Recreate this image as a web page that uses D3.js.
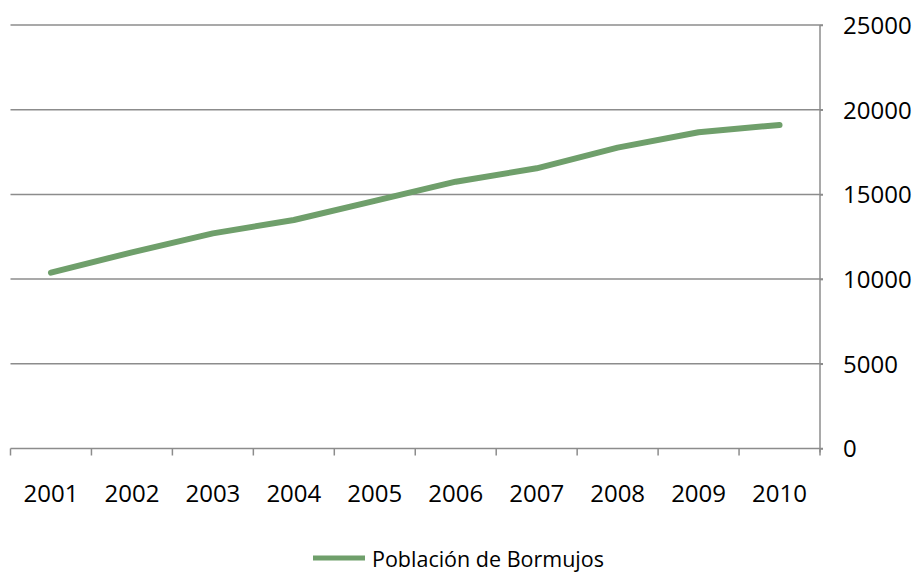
<!DOCTYPE html>
<html>
<head>
<meta charset="utf-8">
<script src="https://cdn.jsdelivr.net/npm/d3@7"></script>
<style>
  body { margin: 0; background: #fff; }
  svg text { font-family: "Open Sans", sans-serif; fill: #000; }
</style>
</head>
<body>
<svg></svg>
<script>
// Data
const years = ['2001', '2002', '2003', '2004', '2005', '2006', '2007', '2008', '2009', '2010'];
const population = [10380, 11580, 12700, 13490, 14620, 15750, 16540, 17760, 18670, 19100];
const yTicks = [0, 5000, 10000, 15000, 20000, 25000];
const seriesName = 'Población de Bormujos';

const width = 915;
const height = 572;
const margin = { top: 25, right: 95, bottom: 123.5, left: 10.5 };
const lineColor = '#6f9f6b';
const gridColor = '#8c8c8c';

const svg = d3.select('svg')
  .attr('width', width)
  .attr('height', height);

const x = d3.scaleBand()
  .domain(years)
  .range([margin.left, width - margin.right]);

const y = d3.scaleLinear()
  .domain([0, 25000])
  .range([height - margin.bottom, margin.top]);

// Horizontal gridlines
svg.append('g')
  .selectAll('line')
  .data(yTicks)
  .enter()
  .append('line')
  .attr('x1', margin.left)
  .attr('x2', width - margin.right + 3)
  .attr('y1', d => y(d))
  .attr('y2', d => y(d))
  .style('stroke', gridColor)
  .style('stroke-width', 1.5);

// Right value axis
const yAxis = svg.append('g')
  .attr('transform', `translate(${width - margin.right}, 0)`)
  .call(d3.axisRight(y).tickValues(yTicks).tickSize(3).tickPadding(20).tickFormat(d3.format('d')));
yAxis.select('.domain').style('stroke', gridColor).style('stroke-width', 1.5)
  .attr('d', `M0,${y(0) + 4}V${y(25000)}`);
yAxis.selectAll('.tick line').style('stroke', gridColor).style('stroke-width', 1.5);
yAxis.selectAll('.tick text').style('font-size', '24px').attr('dy', '0.35em');

// Bottom category axis
const xAxis = svg.append('g')
  .attr('transform', `translate(0, ${y(0)})`)
  .call(d3.axisBottom(x).tickSize(0).tickPadding(36));
xAxis.select('.domain').remove();
xAxis.selectAll('.tick text').style('font-size', '24px');

// Category boundary ticks
const bounds = years.map(d => x(d)).concat([x(years[years.length - 1]) + x.bandwidth()]);
svg.append('g')
  .selectAll('line')
  .data(bounds)
  .enter()
  .append('line')
  .attr('x1', d => d)
  .attr('x2', d => d)
  .attr('y1', y(0))
  .attr('y2', y(0) + 7)
  .style('stroke', gridColor)
  .style('stroke-width', 1.5);

// Series line
const line = d3.line()
  .x((d, i) => x(years[i]) + x.bandwidth() / 2)
  .y(d => y(d));

svg.append('path')
  .datum(population)
  .attr('d', line)
  .style('fill', 'none')
  .style('stroke', lineColor)
  .style('stroke-width', 6)
  .style('stroke-linecap', 'round')
  .style('stroke-linejoin', 'round');

// Legend
const legend = svg.append('g').attr('transform', 'translate(313, 558)');
legend.append('line')
  .attr('x1', 0).attr('x2', 52)
  .attr('y1', 0).attr('y2', 0)
  .style('stroke', lineColor)
  .style('stroke-width', 5);
legend.append('text')
  .attr('x', 59)
  .attr('y', 9)
  .style('font-size', '21.5px')
  .text(seriesName);
</script>
</body>
</html>
